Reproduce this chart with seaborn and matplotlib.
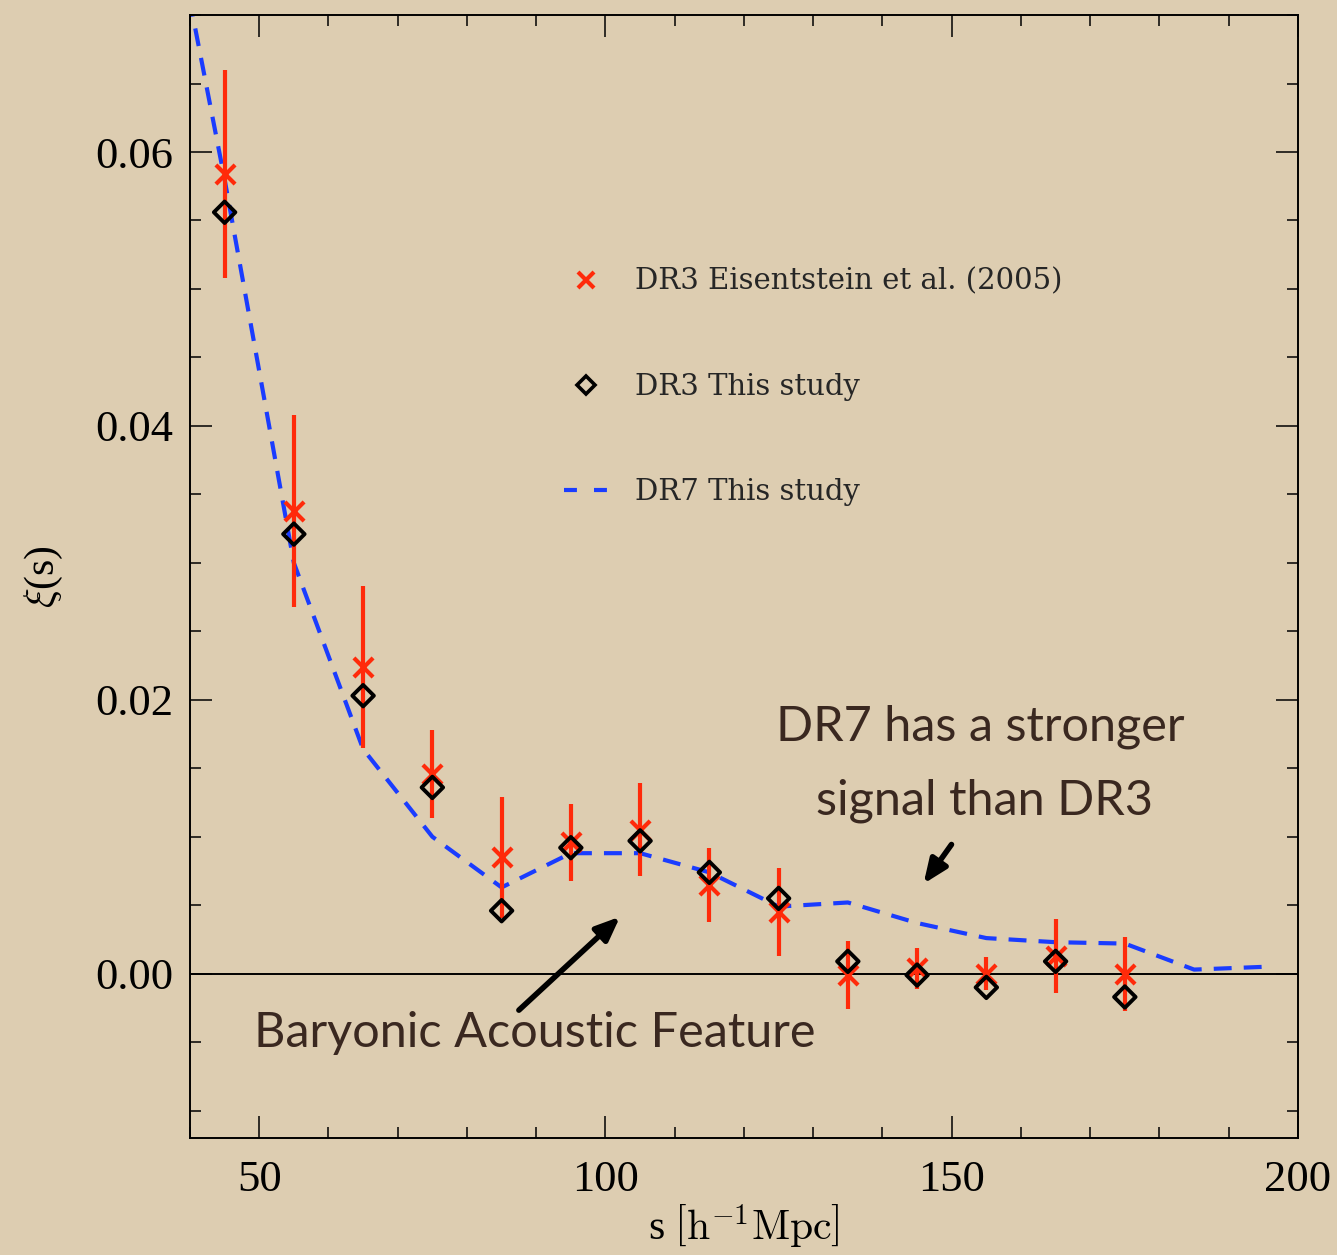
"""
重绘：两点相关函数 xi(s) 与重子声学特征
    DR3 Eisentstein et al. (2005) 红叉 + 误差棒
    DR3 This study 黑色菱形
    DR7 This study 蓝色虚线
"""

# 导包
import pandas as pd
import seaborn as sns
import matplotlib.pyplot as plt
from matplotlib.lines import Line2D
from matplotlib.ticker import MultipleLocator, FormatStrFormatter

# 数据
s_bins = [45, 55, 65, 75, 85, 95, 105, 115, 125, 135, 145, 155, 165, 175]
xi_eisenstein = [0.0584, 0.0338, 0.0224, 0.0146, 0.0085, 0.0096, 0.0105,
                 0.0065, 0.0045, -0.0001, 0.0004, 0.0000, 0.0013, 0.0000]
err_eisenstein = [0.0076, 0.0070, 0.0059, 0.0032, 0.0044, 0.0028, 0.0034,
                  0.0027, 0.0032, 0.0025, 0.0015, 0.0012, 0.0027, 0.0027]
xi_dr3 = [0.0556, 0.0321, 0.0203, 0.0136, 0.0046, 0.0092, 0.0097,
          0.0074, 0.0055, 0.0009, -0.0001, -0.0010, 0.0009, -0.0017]

s_dr7 = [35, 45, 55, 65, 75, 85, 95, 105, 115, 125, 135, 145, 155, 165, 175, 185, 195]
xi_dr7 = [0.0840, 0.0580, 0.0300, 0.0164, 0.0100, 0.0063, 0.0088, 0.0088, 0.0074,
          0.0049, 0.0052, 0.0037, 0.0026, 0.0023, 0.0022, 0.0003, 0.0005]

labels = ["DR3 Eisentstein et al. (2005)", "DR3 This study", "DR7 This study"]

# 颜色
paper = "#DDCDB1"
red = "#FF2A0A"
blue = "#1A3CFF"
ink = "#3A2820"

# 1.主题和字体
sns.set_theme(style="ticks")
plt.rcParams['font.family'] = ['Liberation Serif', 'DejaVu Serif']
plt.rcParams['mathtext.fontset'] = 'cm'

df3 = pd.DataFrame({"s": s_bins, "xi_e": xi_eisenstein, "err": err_eisenstein, "xi_d": xi_dr3})
df7 = pd.DataFrame({"s": s_dr7, "xi": xi_dr7})

fig = plt.figure(figsize=(13.37, 12.55), dpi=100, facecolor=paper)
ax = fig.add_axes([0.1421, 0.0932, 0.8287, 0.8948])
ax.set_facecolor(paper)

# 2.零线
ax.axhline(0, color="black", lw=1.4, zorder=1)

# 3.DR7 虚线
sns.lineplot(data=df7, x="s", y="xi", ax=ax, color=blue, lw=3,
             linestyle=(0, (4.3, 2.9)), zorder=2)

# 4.Eisenstein 误差棒 + 红叉
ax.errorbar(df3["s"], df3["xi_e"], yerr=df3["err"], fmt="none",
            ecolor=red, elinewidth=3, capsize=0, zorder=3)
sns.scatterplot(data=df3, x="s", y="xi_e", ax=ax, marker="x", s=190,
                color=red, linewidth=3, zorder=4)

# 5.DR3 本研究 菱形
sns.scatterplot(data=df3, x="s", y="xi_d", ax=ax, marker="D", s=120,
                color="black", linewidth=2.8, zorder=5)
ax.collections[-1].set_facecolor("none")
ax.collections[-1].set_edgecolor("black")

# 6.坐标轴
ax.set_xlim(40, 200)
ax.set_ylim(-0.012, 0.07)
ax.xaxis.set_major_locator(MultipleLocator(50))
ax.xaxis.set_minor_locator(MultipleLocator(10))
ax.yaxis.set_major_locator(MultipleLocator(0.02))
ax.yaxis.set_minor_locator(MultipleLocator(0.005))
ax.yaxis.set_major_formatter(FormatStrFormatter("%.2f"))
ax.tick_params(which="both", direction="in", top=True, right=True,
               color="black", width=1.1, labelsize=32, labelcolor="black")
ax.tick_params(which="major", length=16)
ax.tick_params(which="minor", length=8)
ax.tick_params(axis="x", pad=16)
ax.tick_params(axis="y", pad=12)
for sp in ax.spines.values():
    sp.set_color("black")
    sp.set_linewidth(1.4)

ax.set_xlabel(r"s $\left[\mathrm{h}^{-1}\mathrm{Mpc}\right]$", fontsize=30, labelpad=2, color="black")
ax.set_ylabel(r"$\xi$(s)", fontsize=30, labelpad=22, color="black")

# 7.图例
handles = [
    Line2D([], [], marker="x", color=red, ls="none", ms=12, mew=3),
    Line2D([], [], marker="D", mfc="none", mec="black", ls="none", ms=9, mew=2.6),
    Line2D([], [], color=blue, lw=3, ls=(0, (3.1, 4.1))),
]
ax.legend(handles, labels, loc="upper left", bbox_to_anchor=(0.324, 0.788),
          frameon=False, prop={"family": "DejaVu Serif", "size": 21},
          handlelength=1.55, handletextpad=0.9, labelspacing=2.65, borderpad=0)

# 8.注释
ax.annotate("", xy=(102.4, 0.0043), xytext=(87.2, -0.0028),
            arrowprops=dict(arrowstyle="-|>,head_length=1.2,head_width=0.5", color="black", lw=4))
ax.annotate("", xy=(145.7, 0.0064), xytext=(150.2, 0.0096),
            arrowprops=dict(arrowstyle="-|>,head_length=1.2,head_width=0.5", color="black", lw=4))
ax.text(89.8, -0.0043, "Baryonic Acoustic Feature", ha="center", va="center",
        fontsize=35, color=ink, family=["Lato", "DejaVu Sans"])
ax.text(154.1, 0.0180, "DR7 has a stronger", ha="center", va="center",
        fontsize=35, color=ink, family=["Lato", "DejaVu Sans"])
ax.text(154.8, 0.0126, "signal than DR3", ha="center", va="center",
        fontsize=35, color=ink, family=["Lato", "DejaVu Sans"])

fig.savefig("out.png", dpi=100, facecolor=paper)
